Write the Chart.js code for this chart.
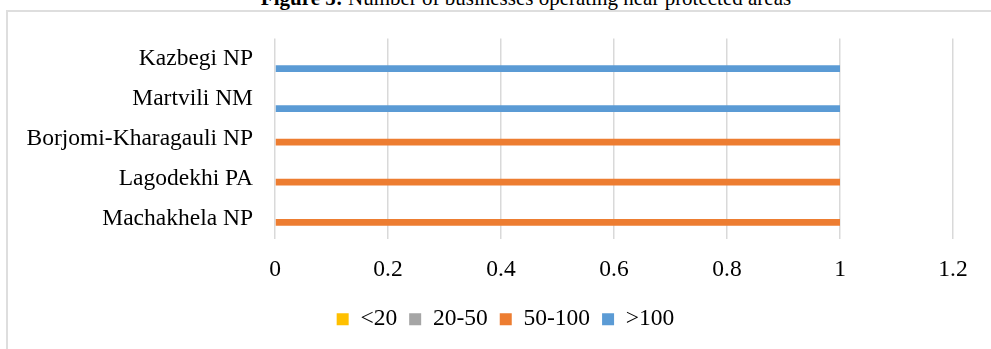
<!DOCTYPE html>
<html>
<head>
<meta charset="utf-8">
<script src="https://cdn.jsdelivr.net/npm/chart.js@4/dist/chart.umd.min.js"></script>
<style>
  html, body { margin: 0; padding: 0; background: #fff; }
  body { width: 991px; height: 349px; overflow: hidden; position: relative; font-family: "Liberation Serif", "Times New Roman", serif; }
  #title { position: absolute; left: 0; width: 1052px; top: -12px; text-align: center; font-size: 21px; line-height: 21px; color: #000; white-space: nowrap; }
  #frame { position: absolute; left: 6px; top: 10px; width: 1000px; height: 400px; border: 2px solid #dedede; box-sizing: border-box; }
  #wrap { position: absolute; left: 8px; top: 12px; }
</style>
</head>
<body>
<div id="title"><b>Figure 5:</b> Number of businesses operating near protected areas</div>
<div id="frame"></div>
<div id="wrap"><canvas id="c" width="995" height="345"></canvas></div>
<script>
// Protected areas, listed top to bottom
const areas = ['Kazbegi NP', 'Martvili NM', 'Borjomi-Kharagauli NP', 'Lagodekhi PA', 'Machakhela NP'];

// Business-count bands (series) and their values per area
const bands = ['<20', '20-50', '50-100', '>100'];
const under20 = [null, null, null, null, null];
const from20to50 = [null, null, null, null, null];
const from50to100 = [null, null, 1, 1, 1];
const over100 = [1, 1, null, null, null];

// Value-axis ticks
const xTicks = [0, 0.2, 0.4, 0.6, 0.8, 1, 1.2];

const bandColors = ['#FFC000', '#A5A5A5', '#ED7D31', '#5B9BD5'];
const seriesValues = [under20, from20to50, from50to100, over100];

const FONT = { family: "'Liberation Serif', 'Times New Roman', serif", size: 23.5 };

// Centre the legend under the whole frame rather than the padded layout box
const legendShift = {
  id: 'legendShift',
  afterLayout(chart) {
    if (chart.legend) { chart.legend.left += 25; chart.legend.right += 25; }
  }
};

new Chart(document.getElementById('c'), {
  type: 'bar',
  data: {
    labels: areas,
    datasets: bands.map((name, i) => ({
      label: name,
      data: seriesValues[i],
      backgroundColor: bandColors[i],
      borderWidth: 0,
      categoryPercentage: 0.67,
      barPercentage: 1.0
    }))
  },
  options: {
    indexAxis: 'y',
    responsive: false,
    animation: false,
    devicePixelRatio: 1,
    layout: { padding: { left: 0, right: 50, top: 26.5, bottom: 16 } },
    scales: {
      x: {
        min: xTicks[0],
        max: xTicks[xTicks.length - 1],
        afterBuildTicks: (scale) => { scale.ticks = xTicks.map(v => ({ value: v })); },
        grid: { color: '#d9d9d9', lineWidth: 1.5, drawTicks: false },
        border: { display: false },
        ticks: { color: '#000', font: FONT, padding: 16.5, maxRotation: 0, callback: (v) => String(v) },
        afterFit: (scale) => { scale.height = 56.5; scale.paddingLeft = 0; scale.paddingRight = 0; }
      },
      y: {
        grid: { display: false, drawTicks: false },
        border: { display: false },
        ticks: { color: '#000', font: FONT, padding: 22 },
        afterFit: (scale) => { scale.width = 267; scale.paddingTop = 0; scale.paddingBottom = 0; }
      }
    },
    plugins: {
      legend: {
        position: 'bottom',
        labels: { color: '#000', font: FONT, boxWidth: 12, boxHeight: 12, padding: 12 }
      },
      tooltip: { enabled: false }
    }
  },
  plugins: [legendShift]
});
</script>
</body>
</html>
